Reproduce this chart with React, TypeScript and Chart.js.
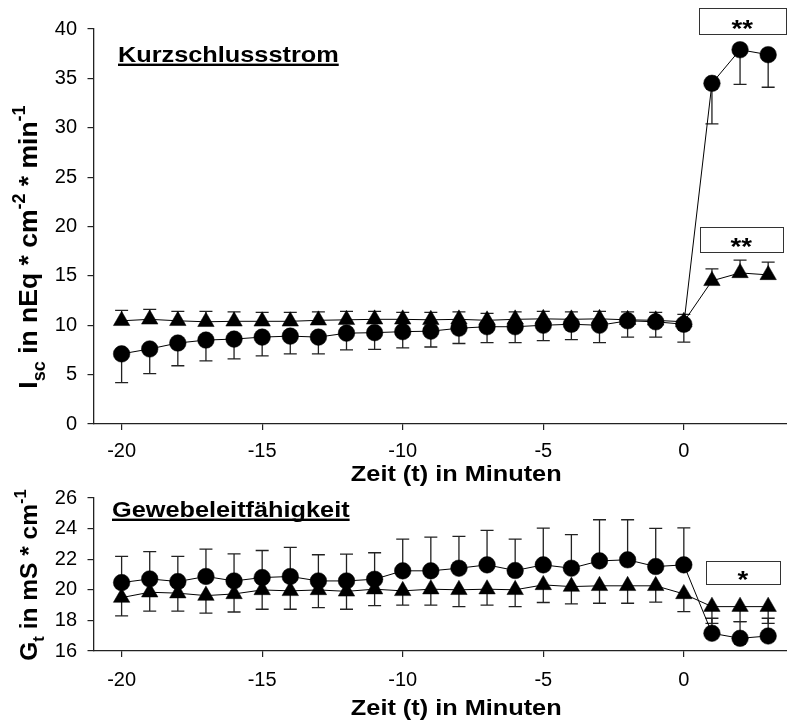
import React, { useEffect, useRef } from "react";
import { Chart, registerables } from "chart.js";

Chart.register(...registerables);

// ---------------- data ----------------
const minutes = [-20, -19, -18, -17, -16, -15, -14, -13, -12, -11, -10, -9, -8, -7, -6, -5, -4, -3, -2, -1, 0, 1, 2, 3];

const iscCircleMean = [7.1, 7.6, 8.2, 8.5, 8.6, 8.8, 8.9, 8.8, 9.2, 9.25, 9.35, 9.4, 9.7, 9.85, 9.85, 10.0, 10.1, 10.0, 10.45, 10.35, 10.1, 34.5, 37.9, 37.4];
const iscCircleSd = [2.9, 2.5, 2.3, 2.1, 2.0, 1.9, 1.8, 1.7, 1.7, 1.7, 1.65, 1.6, 1.55, 1.6, 1.6, 1.55, 1.55, 1.75, 1.65, 1.55, 1.8, 4.1, 3.5, 3.3];
const iscTriangleMean = [10.45, 10.6, 10.45, 10.35, 10.4, 10.4, 10.4, 10.5, 10.55, 10.6, 10.6, 10.55, 10.6, 10.5, 10.6, 10.65, 10.6, 10.65, 10.55, 10.5, 10.35, 14.5, 15.3, 15.1];
const iscTriangleSd = [1.05, 1.0, 0.95, 1.05, 0.95, 0.9, 0.9, 0.85, 0.85, 0.8, 0.7, 0.75, 0.75, 0.7, 0.75, 0.75, 0.75, 0.75, 0.8, 0.8, 0.75, 1.2, 1.3, 1.3];

const gtCircleMean = [20.47, 20.71, 20.54, 20.87, 20.58, 20.8, 20.87, 20.58, 20.58, 20.69, 21.24, 21.24, 21.41, 21.63, 21.26, 21.63, 21.41, 21.89, 21.96, 21.52, 21.63, 17.16, 16.83, 16.98];
const gtCircleSd = [1.71, 1.79, 1.64, 1.79, 1.77, 1.77, 1.9, 1.71, 1.75, 1.73, 2.07, 2.2, 2.08, 2.25, 2.05, 2.4, 2.19, 2.69, 2.62, 2.49, 2.42, 0.98, 1.09, 1.16];
const gtTriangleMean = [19.49, 19.84, 19.78, 19.62, 19.73, 19.99, 19.93, 19.99, 19.9, 20.04, 19.93, 20.04, 20.0, 20.04, 20.0, 20.32, 20.21, 20.26, 20.26, 20.26, 19.73, 18.9, 18.9, 18.9];
const gtTriangleSd = [1.2, 1.24, 1.18, 1.15, 1.18, 1.26, 1.2, 1.15, 1.17, 1.07, 0.93, 1.04, 1.1, 1.04, 1.1, 1.15, 1.13, 1.14, 1.14, 1.07, 1.15, 1.09, 0.98, 1.09];

const xTicks = [-20, -15, -10, -5, 0];
const iscTicks = [0, 5, 10, 15, 20, 25, 30, 35, 40];
const gtTicks = [16, 18, 20, 22, 24, 26];

const xTitle = "Zeit (t) in Minuten";
const iscTitle = "Kurzschlussstrom";
const gtTitle = "Gewebeleitfähigkeit";

type Seg = { text: string; kind: "n" | "sub" | "sup" };
const iscYTitle: Seg[] = [
  { text: "I", kind: "n" },
  { text: "sc", kind: "sub" },
  { text: " in nEq * cm", kind: "n" },
  { text: "-2", kind: "sup" },
  { text: " * min", kind: "n" },
  { text: "-1", kind: "sup" },
];
const gtYTitle: Seg[] = [
  { text: "G", kind: "n" },
  { text: "t", kind: "sub" },
  { text: " in mS * cm", kind: "n" },
  { text: "-1", kind: "sup" },
];

// significance boxes (data units)
const iscMarks = [
  { x0: 0.53, x1: 3.63, yTop: 42.1, yBottom: 39.5, label: "**" },
  { x0: 0.57, x1: 3.52, yTop: 19.95, yBottom: 17.4, label: "**" },
];
const gtMarks = [{ x0: 0.78, x1: 3.42, yTop: 21.9, yBottom: 20.39, label: "*" }];

// ---------------- drawing helpers ----------------
const FAMILY = '"Liberation Sans", Arial, Helvetica, sans-serif';
const STRETCH = 1.15;

function segFont(kind: string, size: number) {
  const fs = kind === "n" ? size : size * 0.68;
  return `bold ${fs}px ${FAMILY}`;
}
function richWidth(ctx: CanvasRenderingContext2D, segs: Seg[], size: number) {
  let w = 0;
  for (const s of segs) {
    ctx.font = segFont(s.kind, size);
    w += ctx.measureText(s.text).width;
  }
  return w;
}
function drawRich(ctx: CanvasRenderingContext2D, segs: Seg[], size: number, x0: number, y0: number) {
  let x = x0;
  for (const s of segs) {
    ctx.font = segFont(s.kind, size);
    const dy = s.kind === "sub" ? size * 0.3 : s.kind === "sup" ? -size * 0.45 : 0;
    ctx.fillText(s.text, x, y0 + dy);
    x += ctx.measureText(s.text).width;
  }
}

type Panel = {
  circleMean: number[];
  circleSd: number[];
  triMean: number[];
  triSd: number[];
  circleDir: number; // -1 = bars go down, +1 = up
  triDir: number;
  yMin: number;
  yMax: number;
  yTicks: number[];
  title: string;
  yTitle: Seg[];
  yTitleSize: number;
  marks: { x0: number; x1: number; yTop: number; yBottom: number; label: string }[];
  padTop: number;
  xAxisHeight: number;
  tickPad: number;
  titleDx: number;
  titleDy: number;
  yTitleDy: number;
  xTitleDy: number;
};

function makeChart(canvas: HTMLCanvasElement, p: Panel) {
  const overlay = {
    id: "overlay",
    beforeDatasetsDraw(chart: any) {
      const ctx = chart.ctx as CanvasRenderingContext2D;
      const xs = chart.scales.x;
      const ys = chart.scales.y;
      ctx.save();
      ctx.strokeStyle = "#222";
      ctx.lineWidth = 1.3;
      const drawBars = (mean: number[], sd: number[], dir: number) => {
        minutes.forEach((m, i) => {
          const px = xs.getPixelForValue(m);
          const py0 = ys.getPixelForValue(mean[i]);
          const py1 = ys.getPixelForValue(mean[i] + dir * sd[i]);
          ctx.beginPath();
          ctx.moveTo(px, py0);
          ctx.lineTo(px, py1);
          ctx.moveTo(px - 6.5, py1);
          ctx.lineTo(px + 6.5, py1);
          ctx.stroke();
        });
      };
      drawBars(p.triMean, p.triSd, p.triDir);
      drawBars(p.circleMean, p.circleSd, p.circleDir);
      ctx.restore();
    },
    afterDraw(chart: any) {
      const ctx = chart.ctx as CanvasRenderingContext2D;
      const area = chart.chartArea;
      const xs = chart.scales.x;
      const ys = chart.scales.y;
      ctx.save();
      ctx.fillStyle = "#000";
      ctx.textBaseline = "alphabetic";

      // panel title (bold, underlined)
      ctx.font = `bold 22px ${FAMILY}`;
      const tw = ctx.measureText(p.title).width * STRETCH;
      const tx = area.left + p.titleDx;
      const ty = area.top + p.titleDy;
      ctx.save();
      ctx.translate(tx, ty);
      ctx.scale(STRETCH, 1);
      ctx.textAlign = "left";
      ctx.fillText(p.title, 0, 0);
      ctx.restore();
      ctx.fillRect(tx, ty + 1.6, tw, 2.4);

      // x axis title
      ctx.save();
      ctx.font = `bold 22px ${FAMILY}`;
      ctx.translate((area.left + area.right) / 2 + 16, area.bottom + p.xTitleDy);
      ctx.scale(STRETCH, 1);
      ctx.textAlign = "center";
      ctx.fillText(xTitle, 0, 0);
      ctx.restore();

      // y axis title (rotated, with sub/superscripts)
      ctx.save();
      const size = p.yTitleSize;
      const w = richWidth(ctx, p.yTitle, size);
      ctx.translate(area.left - 56.5, (area.top + area.bottom) / 2 + p.yTitleDy);
      ctx.rotate(-Math.PI / 2);
      ctx.textAlign = "left";
      drawRich(ctx, p.yTitle, size, -w / 2, 0);
      ctx.restore();

      // significance boxes
      p.marks.forEach((mk) => {
        const x0 = xs.getPixelForValue(mk.x0);
        const x1 = xs.getPixelForValue(mk.x1);
        const y0 = ys.getPixelForValue(mk.yTop);
        const y1 = ys.getPixelForValue(mk.yBottom);
        ctx.strokeStyle = "#333";
        ctx.lineWidth = 1;
        ctx.strokeRect(Math.round(x0) + 0.5, Math.round(y0) + 0.5, Math.round(x1 - x0), Math.round(y1 - y0));
        ctx.save();
        ctx.font = `bold 24px ${FAMILY}`;
        const cy = (y0 + y1) / 2 + 2;
        ctx.translate((x0 + x1) / 2, cy + 0.573 * 24);
        ctx.scale(STRETCH, 1);
        ctx.textAlign = "center";
        ctx.fillText(mk.label, 0, 0);
        ctx.restore();
      });
      ctx.restore();
    },
  };

  const tickFont = { family: FAMILY, size: 20, lineHeight: 1.2 };

  return new Chart(canvas, {
    type: "line",
    data: {
      datasets: [
        {
          data: minutes.map((m, i) => ({ x: m, y: p.circleMean[i] })),
          borderColor: "#000",
          borderWidth: 1,
          pointStyle: "circle",
          pointRadius: 8.3,
          pointBackgroundColor: "#000",
          pointBorderColor: "#000",
          pointBorderWidth: 0.5,
          fill: false,
          tension: 0,
        },
        {
          data: minutes.map((m, i) => ({ x: m, y: p.triMean[i] })),
          borderColor: "#000",
          borderWidth: 1,
          pointStyle: "triangle",
          pointRadius: 9.5,
          pointBackgroundColor: "#000",
          pointBorderColor: "#000",
          pointBorderWidth: 0.5,
          fill: false,
          tension: 0,
        },
      ],
    } as any,
    options: {
      responsive: false,
      animation: false,
      maintainAspectRatio: false,
      layout: { padding: { top: p.padTop, left: 0, right: 0, bottom: 0 } },
      plugins: {
        legend: { display: false },
        tooltip: { enabled: false },
        title: { display: false },
      },
      events: [],
      scales: {
        x: {
          type: "linear",
          min: -21,
          max: 3.67,
          afterBuildTicks: (s: any) => {
            s.ticks = xTicks.map((v) => ({ value: v }));
          },
          afterFit: (s: any) => {
            s.height = p.xAxisHeight;
          },
          ticks: {
            font: tickFont,
            color: "#000",
            padding: p.tickPad,
            maxRotation: 0,
            autoSkip: false,
            includeBounds: false,
          },
          grid: { display: true, drawOnChartArea: false, drawTicks: true, tickLength: 6, color: "#222", lineWidth: 1.2 },
          border: { display: true, color: "#222", width: 1.3 },
        },
        y: {
          type: "linear",
          min: p.yMin,
          max: p.yMax,
          afterBuildTicks: (s: any) => {
            s.ticks = p.yTicks.map((v) => ({ value: v }));
          },
          afterFit: (s: any) => {
            s.width = 93.5;
          },
          ticks: { font: tickFont, color: "#000", padding: 10.5, autoSkip: false },
          grid: { display: true, drawOnChartArea: false, drawTicks: true, tickLength: 6, color: "#222", lineWidth: 1.2 },
          border: { display: true, color: "#222", width: 1.3 },
        },
      },
    } as any,
    plugins: [overlay],
  });
}

const topPanel: Panel = {
  circleMean: iscCircleMean,
  circleSd: iscCircleSd,
  triMean: iscTriangleMean,
  triSd: iscTriangleSd,
  circleDir: -1,
  triDir: 1,
  yMin: 0,
  yMax: 40,
  yTicks: iscTicks,
  title: iscTitle,
  yTitle: iscYTitle,
  yTitleSize: 26.5,
  marks: iscMarks,
  padTop: 29,
  xAxisHeight: 66,
  tickPad: 9,
  titleDx: 24.5,
  titleDy: 33,
  yTitleDy: 20.5,
  xTitleDy: 57,
};

const bottomPanel: Panel = {
  circleMean: gtCircleMean,
  circleSd: gtCircleSd,
  triMean: gtTriangleMean,
  triSd: gtTriangleSd,
  circleDir: 1,
  triDir: -1,
  yMin: 16,
  yMax: 26,
  yTicks: gtTicks,
  title: gtTitle,
  yTitle: gtYTitle,
  yTitleSize: 24.5,
  marks: gtMarks,
  padTop: 28,
  xAxisHeight: 71,
  tickPad: 11,
  titleDx: 18.5,
  titleDy: 19,
  yTitleDy: 0.5,
  xTitleDy: 64,
};

export default function App() {
  const topRef = useRef<HTMLCanvasElement>(null);
  const botRef = useRef<HTMLCanvasElement>(null);

  useEffect(() => {
    document.body.style.margin = "0";
    const c1 = makeChart(topRef.current!, topPanel);
    const c2 = makeChart(botRef.current!, bottomPanel);
    return () => {
      c1.destroy();
      c2.destroy();
    };
  }, []);

  return (
    <div style={{ position: "relative", width: 787, height: 722, background: "#fff", overflow: "hidden" }}>
      <canvas ref={topRef} width={797} height={490} style={{ position: "absolute", left: 0, top: 0, width: 797, height: 490 }} />
      <canvas ref={botRef} width={797} height={252} style={{ position: "absolute", left: 0, top: 470, width: 797, height: 252 }} />
    </div>
  );
}
